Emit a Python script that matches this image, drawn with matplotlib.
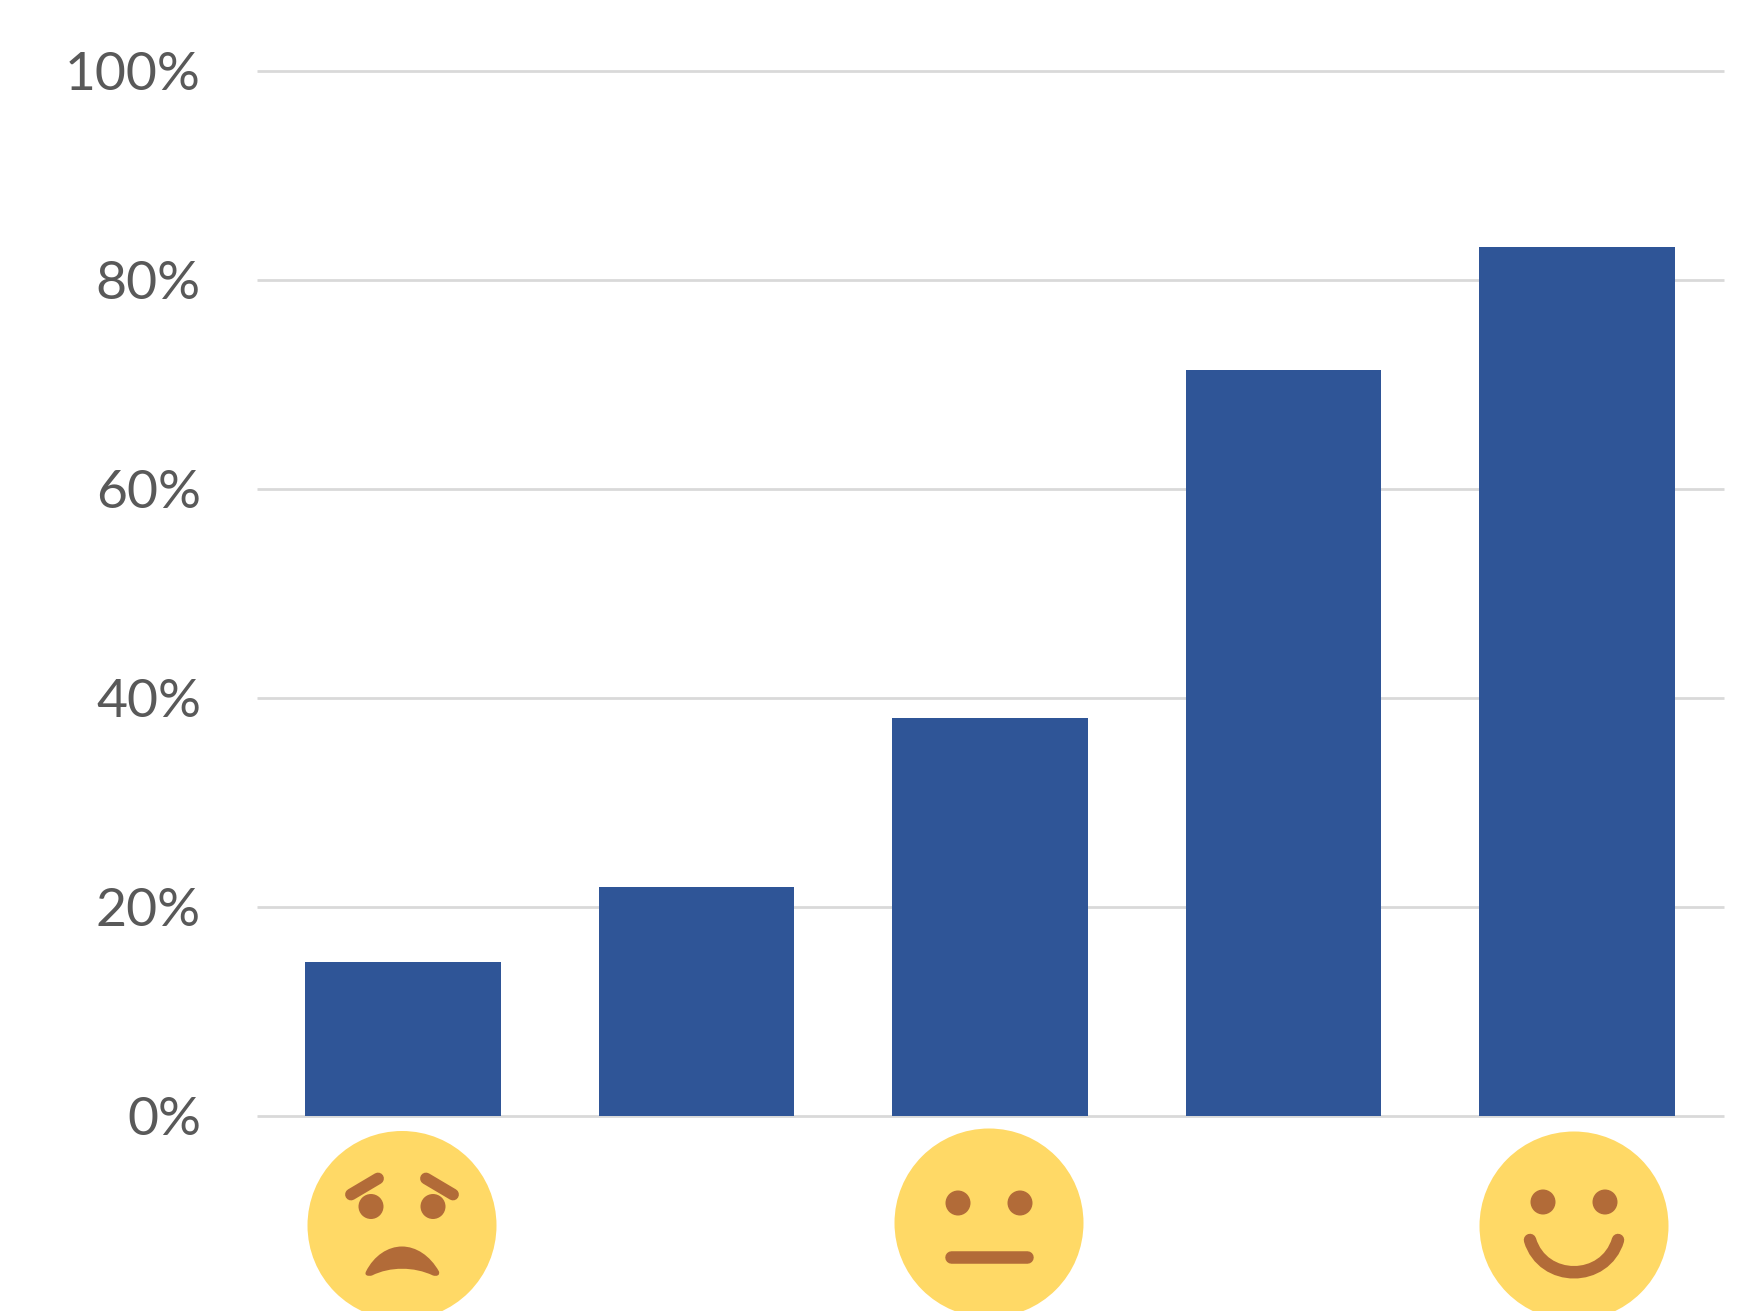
import matplotlib
matplotlib.use('Agg')
import matplotlib.pyplot as plt
from matplotlib.patches import Circle, PathPatch
from matplotlib.path import Path

plt.rcParams['font.family'] = ['Lato', 'DejaVu Sans']

W, H = 1757, 1311

# Chart data
positions = [0, 1, 2, 3, 4]
values = [14.7, 21.9, 38.1, 71.4, 83.2]
y_ticks = [0, 20, 40, 60, 80, 100]
y_labels = ['0%', '20%', '40%', '60%', '80%', '100%']

BAR = '#2F5597'
GRID = '#D9D9D9'
TEXT = '#595959'
FACE = '#FFD966'
FEATURE = '#B26B38'

fig = plt.figure(figsize=(W / 100, H / 100), dpi=100, facecolor='white')
ax = fig.add_axes([256.5 / W, 1 - 1116 / H, 1467 / W, 1045 / H])

ax.bar(positions, values, width=0.667, color=BAR, zorder=3)
ax.set_xlim(-0.5, 4.5)
ax.set_ylim(0, 100)
ax.set_yticks(y_ticks)
ax.set_yticklabels(y_labels, fontsize=38.5, color=TEXT)
ax.set_xticks([])
ax.tick_params(axis='y', length=0, pad=40)
ax.grid(axis='y', color=GRID, linewidth=2, zorder=0, clip_on=False, solid_capstyle='butt')
ax.set_axisbelow(True)
for spine in ax.spines.values():
    spine.set_visible(False)

# Overlay in picture pixels for the emoji under the bars
overlay = fig.add_axes([0, 0, 1, 1], facecolor='none')
overlay.set_xlim(0, W)
overlay.set_ylim(H, 0)
overlay.axis('off')


def stroke(cx, cy, verts, codes, lw):
    pts = [(cx + x, cy + y) for x, y in verts]
    overlay.add_patch(PathPatch(Path(pts, codes), fill=False, edgecolor=FEATURE,
                                linewidth=lw, capstyle='round'))


def head(cx, cy, eye_y):
    overlay.add_patch(Circle((cx, cy), 94.5, facecolor=FACE, edgecolor='none', clip_on=False))
    for dx in (-31, 31):
        overlay.add_patch(Circle((cx + dx, cy + eye_y), 12.5, facecolor=FEATURE, edgecolor='none'))


# Sad face
cx, cy = 402, 1225.5
head(cx, cy, -19)
stroke(cx, cy, [(-51, -31), (-24, -47)], [Path.MOVETO, Path.LINETO], 8.5)
stroke(cx, cy, [(24, -47), (51, -31)], [Path.MOVETO, Path.LINETO], 8.5)
mouth_verts = [(-36, 46), (-28, 30), (-14, 21), (0, 21), (14, 21), (28, 30), (37, 46),
               (38, 50), (35, 51), (31, 50), (12, 41), (-12, 41), (-30, 50),
               (-34, 51), (-38, 50), (-36, 46)]
mouth_codes = [Path.MOVETO] + [Path.CURVE4] * 15
overlay.add_patch(PathPatch(Path([(cx + x, cy + y) for x, y in mouth_verts], mouth_codes),
                            facecolor=FEATURE, edgecolor='none'))

# Neutral face
cx, cy = 989, 1223
head(cx, cy, -20)
stroke(cx, cy, [(-38, 34), (38, 34)], [Path.MOVETO, Path.LINETO], 9)

# Happy face
cx, cy = 1574, 1226
head(cx, cy, -24)
stroke(cx, cy, [(-44, 14), (-31, 57), (31, 57), (44, 14)],
       [Path.MOVETO, Path.CURVE4, Path.CURVE4, Path.CURVE4], 9)

fig.savefig('out.png', dpi=100, facecolor='white')
